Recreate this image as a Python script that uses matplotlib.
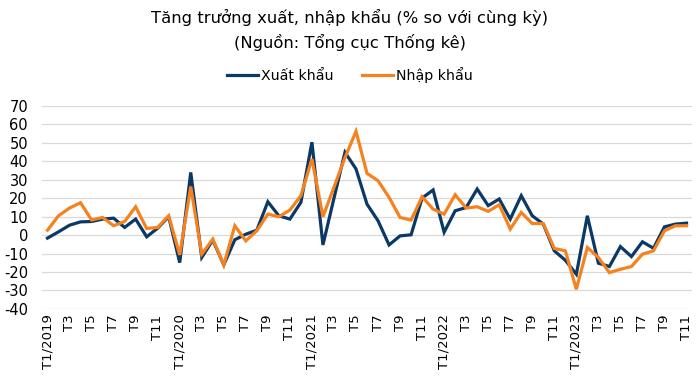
import matplotlib
matplotlib.use("Agg")
import matplotlib.pyplot as plt
import numpy as np

plt.rcParams['axes.unicode_minus'] = False

# growth vs same period last year (%), T1/2019 .. T11/2023
xuat_khau = [-1.6, 1.8, 5.4, 7.2, 7.4, 8.7, 9.2, 4.2, 8.7, -0.9, 3.8, 10.0,
             -14.9, 34.0, -12.1, -2.7, -16.1, -2.5, 0.5, 2.7, 18.1, 10.5, 8.7, 17.8,
             50.4, -5.3, 20.0, 44.9, 35.9, 16.8, 7.8, -5.3, -0.4, 0.2, 20.1, 24.5,
             1.6, 13.2, 15.0, 25.0, 16.0, 19.6, 8.7, 21.4, 10.5, 6.0, -8.5, -13.6,
             -21.2, 10.5, -15.2, -17.0, -6.2, -11.6, -3.6, -7.1, 4.5, 6.0, 6.5]
nhap_khau = [2.7, 10.5, 14.7, 17.6, 8.2, 9.6, 5.1, 7.4, 15.4, 3.6, 4.2, 10.5,
             -10.7, 26.3, -10.3, -2.2, -16.1, 5.1, -3.1, 2.4, 11.4, 10.0, 13.6, 21.4,
             41.3, 10.0, 26.0, 42.0, 56.3, 33.5, 29.5, 20.5, 9.6, 8.2, 20.8, 14.1,
             11.4, 21.9, 14.7, 15.4, 12.9, 16.5, 3.3, 12.3, 6.3, 6.3, -7.2, -8.5,
             -29.3, -6.7, -12.1, -20.3, -18.5, -17.0, -10.3, -8.5, 2.4, 5.1, 5.1]

years = [2019, 2020, 2021, 2022, 2023]
months = []
for y in years:
    for m in range(1, 13):
        months.append(f"T{m}/{y}" if m == 1 else f"T{m}")
months = months[:len(xuat_khau)]

NAVY = '#0b3966'
ORANGE = '#f5821f'

fig = plt.figure(figsize=(7, 3.8), dpi=100)
ax = fig.add_axes([0.06, 0.187, 0.9286, 0.534])

x = np.arange(len(months))
ax.plot(x, xuat_khau, color=NAVY, lw=2.3, label='Xuất khẩu', solid_joinstyle='miter')
ax.plot(x, nhap_khau, color=ORANGE, lw=2.3, label='Nhập khẩu', solid_joinstyle='miter')

ax.set_xlim(-0.5, len(months) - 0.5)
ax.set_ylim(-40, 70)
ax.set_yticks(range(-40, 71, 10))
ax.set_xticks(x[::2])
ax.set_xticklabels(months[::2], rotation=90, fontsize=9.5)
ax.tick_params(axis='y', labelsize=10.5, length=0, pad=10)
ax.tick_params(axis='x', length=0, pad=4)

ax.grid(axis='y', color='#d9d9d9', lw=0.9)
ax.set_axisbelow(True)
for s in ax.spines.values():
    s.set_visible(False)

fig.text(0.5, 0.953, 'Tăng trưởng xuất, nhập khẩu (% so với cùng kỳ)', ha='center', va='center', fontsize=11.8)
fig.text(0.5, 0.889, '(Nguồn: Tổng cục Thống kê)', ha='center', va='center', fontsize=11.8)

fig.legend(loc='center', bbox_to_anchor=(0.5, 0.803), ncol=2, frameon=False, fontsize=10.2,
           handlelength=2.2, handletextpad=0.2, columnspacing=2.0)

fig.savefig('out.png', dpi=100)
